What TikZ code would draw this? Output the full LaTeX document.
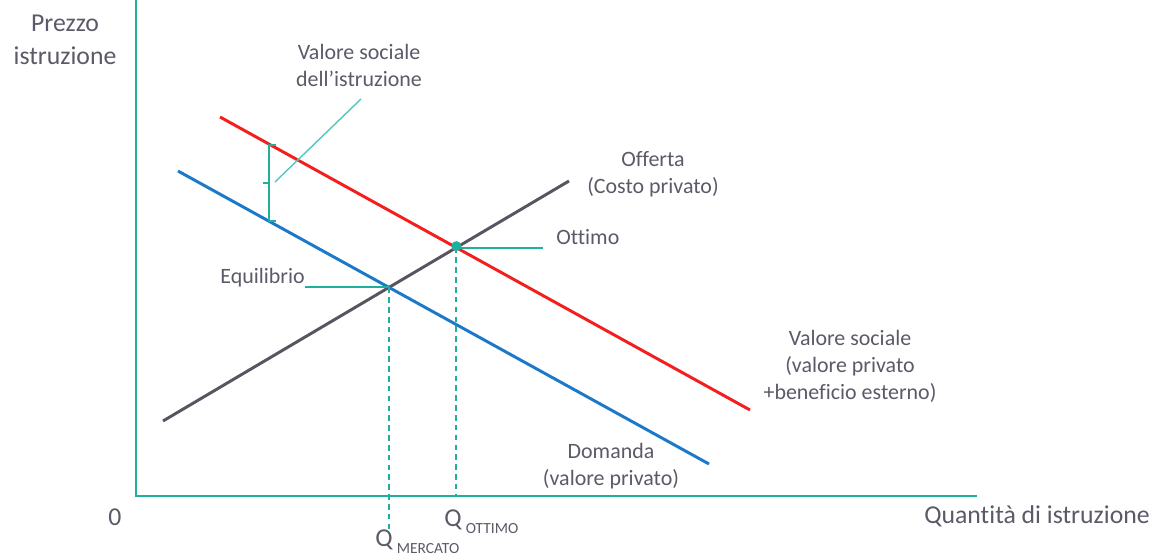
\documentclass[tikz,border=0pt]{standalone}
\usepackage{fontspec}
\setmainfont{Carlito}[Ligatures=NoCommon]
\definecolor{axisteal}{RGB}{30,176,156}
\definecolor{leadteal}{RGB}{80,200,186}
\definecolor{labelgray}{RGB}{90,90,104}
\definecolor{demandblue}{RGB}{28,120,200}
\definecolor{socialred}{RGB}{245,30,30}
\definecolor{supplygray}{RGB}{88,84,96}

\begin{document}
\begin{tikzpicture}[x=0.025cm,y=-0.025cm,
    lbl/.style={text=labelgray,inner sep=0pt,align=center,font=\fontsize{15.6}{19.2}\selectfont},
    axlbl/.style={lbl,font=\fontsize{18.3}{23.4}\selectfont},
    curve/.style={line width=2.1pt},
    lead/.style={axisteal,line width=1.4pt},
    drop/.style={axisteal,line width=1.2pt,dash pattern=on 4pt off 3pt}]

    \useasboundingbox (0,0) rectangle (1156,556);

    % axes
    \coordinate (O) at (136,496);
    \coordinate (ytop) at (136,0);
    \coordinate (xend) at (977,496);
    \draw[axisteal,line width=1.4pt] (ytop) -- (O) -- (xend);

    % curves
    \coordinate (s0) at (163,421); \coordinate (s1) at (569,181);
    \coordinate (d0) at (178,171); \coordinate (d1) at (709,464);
    \coordinate (v0) at (220,117); \coordinate (v1) at (750,410);
    \draw[curve,supplygray] (s0) -- (s1);
    \draw[curve,demandblue] (d0) -- (d1);
    \draw[curve,socialred] (v0) -- (v1);

    % equilibrio, ottimo
    \coordinate (eq) at (intersection of s0--s1 and d0--d1);
    \coordinate (opt) at (intersection of s0--s1 and v0--v1);
    \draw[drop] (eq) -- (eq |- 0,530);
    \draw[drop] (opt) -- (opt |- O);
    \fill[axisteal] (opt) ++(0,-1.5) circle (5);

    % labels
    \node[axlbl] (yl) at (65,40) {Prezzo\\istruzione};
    \node[axlbl] (zero) at (115,517) {0};
    \node[axlbl] (xl) at (1037,516) {Quantità di istruzione};
    \node[axlbl,anchor=base west] (qopt) at (444,526) {Q\,\raisebox{-5pt}{\fontsize{11}{13}\selectfont OTTIMO}};
    \node[axlbl,anchor=base west] (qmer) at (375,546) {Q\,\raisebox{-5.5pt}{\fontsize{11}{13}\selectfont MERCATO}};
    \node[lbl] (offl) at (653,174) {Offerta\\(Costo privato)};
    \node[lbl] (socl) at (850,366) {Valore sociale\\(valore privato\\+beneficio esterno)};
    \node[lbl] (doml) at (611,466) {Domanda\\(valore privato)};
    \node[lbl] (vsl) at (359,65) {Valore sociale\\dell’istruzione};
    \node[lbl,anchor=east] (eql) at (305,278) {Equilibrio};
    \node[lbl,anchor=west] (optl) at (556,237) {Ottimo};

    % leaders
    \draw[lead] (eq) -- (eql.east |- eq);
    \draw[lead] (opt) -- (opt -| 543,0);

    % bracket between the two curves
    \coordinate (bt) at (276,145);
    \coordinate (bb) at (276,221);
    \coordinate (btip) at (263,183);
    \draw[lead,line join=round] (bt) -- (269,145) -- (269,221) -- (bb);
    \draw[lead] (btip) -- (269,183);
    \coordinate (bmid) at (275,182);
    \coordinate (vsend) at (361,99);
    \draw[leadteal,line width=1pt] (bmid) -- (vsend);
\end{tikzpicture}
\end{document}
